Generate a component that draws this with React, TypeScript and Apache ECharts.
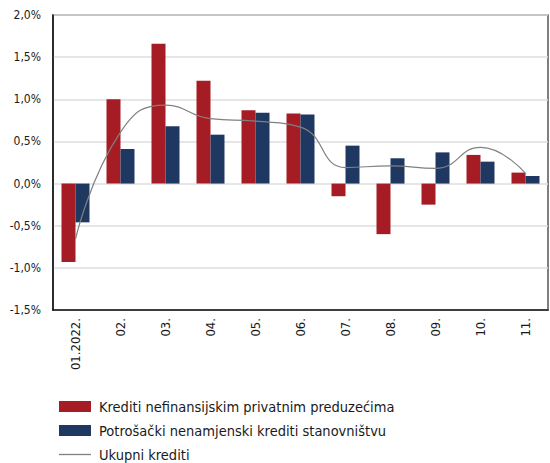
import React, { useEffect, useRef } from "react";
import * as echarts from "echarts";

const categories = ["01.2022.", "02.", "03.", "04.", "05.", "06.", "07.", "08.", "09.", "10.", "11."];
const preduzeca = [-0.93, 1.0, 1.66, 1.22, 0.87, 0.83, -0.15, -0.6, -0.25, 0.34, 0.13];
const stanovnistvo = [-0.46, 0.41, 0.68, 0.58, 0.84, 0.82, 0.45, 0.3, 0.37, 0.26, 0.09];
const ukupni = [-0.66, 0.61, 0.93, 0.77, 0.74, 0.67, 0.19, 0.21, 0.18, 0.43, 0.12];
const seriesNames = [
  "Krediti nefinansijskim privatnim preduzećima",
  "Potrošački nenamjenski krediti stanovništvu",
  "Ukupni krediti",
];

const FONT = "'Liberation Sans Narrow', 'DejaVu Sans Condensed', sans-serif";

export default function App() {
  const ref = useRef<HTMLDivElement>(null);
  useEffect(() => {
    if (!ref.current) return;
    const chart = echarts.init(ref.current, undefined, { renderer: "svg" });
    chart.setOption({
      animation: false,
      textStyle: { fontFamily: FONT },
      grid: {
        left: 53,
        right: 2,
        top: 15,
        bottom: 153,
        show: true,
        borderColor: "#555",
        borderWidth: 1.5,
        containLabel: false,
      },
      legend: {
        orient: "vertical",
        left: 59,
        top: 399,
        height: 64,
        width: 480,
        itemWidth: 32,
        itemHeight: 11,
        itemGap: 9,
        padding: 0,
        textStyle: { fontSize: 14.5, color: "#1a1a1a", fontFamily: FONT, lineHeight: 14, padding: [0, 0, 0, 3] },
        data: [
          { name: seriesNames[0], icon: "rect" },
          { name: seriesNames[1], icon: "rect" },
          { name: seriesNames[2], icon: "path://M0,0 L32,0 L32,1.3 L0,1.3 Z" },
        ],
      },
      xAxis: {
        type: "category",
        data: categories,
        axisLine: { show: true, onZero: false, lineStyle: { color: "#111", width: 1.5 } },
        axisTick: { show: false },
        axisLabel: {
          rotate: 90,
          margin: 8,
          fontSize: 13,
          color: "#1a1a1a",
          fontFamily: FONT,
          interval: 0,
        },
      },
      yAxis: {
        type: "value",
        min: -1.5,
        max: 2.0,
        interval: 0.5,
        axisLine: { show: true, lineStyle: { color: "#111", width: 1.5 } },
        axisTick: { show: false },
        splitLine: { lineStyle: { color: "#dedede", width: 1.5 } },
        axisLabel: {
          fontSize: 12,
          color: "#1a1a1a",
          margin: 12,
          fontFamily: FONT,
          formatter: (v: number) => v.toFixed(1).replace(".", ",") + "%",
        },
      },
      series: [
        {
          name: seriesNames[0],
          type: "bar",
          data: preduzeca,
          barWidth: 14,
          barGap: "0%",
          itemStyle: { color: "#A61C24" },
        },
        {
          name: seriesNames[1],
          type: "bar",
          data: stanovnistvo,
          barWidth: 14,
          itemStyle: { color: "#1E3862" },
        },
        {
          name: seriesNames[2],
          type: "line",
          data: ukupni,
          smooth: true,
          symbol: "none",
          showSymbol: false,
          lineStyle: { color: "#808080", width: 1.2 },
          itemStyle: { color: "#808080" },
          z: 5,
        },
      ],
    });
    return () => chart.dispose();
  }, []);
  return <div ref={ref} style={{ width: 550, height: 463, position: "absolute", left: 0, top: 0, background: "#fff" }} />;
}
